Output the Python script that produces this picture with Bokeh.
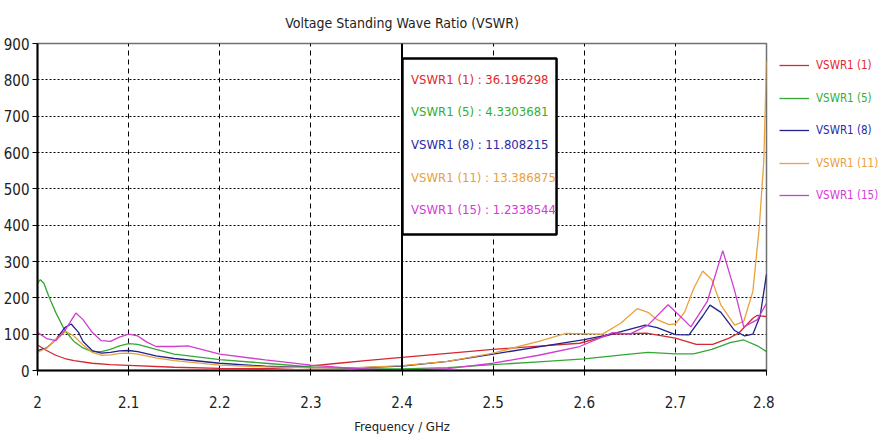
from bokeh.plotting import figure
from bokeh.layouts import row
from bokeh.models import (Range1d, FixedTicker, Span, BoxAnnotation, Label, Legend, LegendItem)
from bokeh.embed import file_html
from bokeh.resources import INLINE

FONT = "'DejaVu Sans Condensed', 'Liberation Sans', sans-serif"

# ---- data ----
f1 = [2.00, 2.01, 2.02, 2.03, 2.04, 2.06, 2.08, 2.10, 2.15, 2.20, 2.25, 2.28, 2.30, 2.33, 2.36, 2.40,
      2.45, 2.50, 2.55, 2.595, 2.631, 2.668, 2.70, 2.723, 2.741, 2.759, 2.77, 2.785, 2.79, 2.80]
v1 = [70, 55, 42, 33, 27, 20, 16, 14, 9, 6, 5, 8, 13, 20, 27, 36.2,
      47, 58, 67, 75, 100, 103, 89, 72, 72, 89, 104, 144, 152, 148]

f5 = [2.000, 2.003, 2.007, 2.013, 2.02, 2.03, 2.04, 2.05, 2.06, 2.07, 2.08, 2.09, 2.10, 2.11, 2.13, 2.15,
      2.20, 2.25, 2.30, 2.35, 2.40, 2.45, 2.50, 2.55, 2.60, 2.65, 2.67, 2.70, 2.72, 2.74, 2.76, 2.775, 2.79, 2.80]
v5 = [240, 250, 240, 200, 160, 110, 80, 62, 52, 52, 58, 68, 74, 72, 58, 45,
      30, 20, 10, 5, 4.33, 8, 16, 24, 32, 45, 50, 46, 46, 58, 77, 84, 68, 52]

f8 = [2.00, 2.01, 2.02, 2.03, 2.037, 2.045, 2.05, 2.06, 2.07, 2.08, 2.09, 2.10, 2.11, 2.13, 2.15, 2.20,
      2.25, 2.30, 2.35, 2.40, 2.45, 2.50, 2.55, 2.60, 2.63, 2.667, 2.68, 2.70, 2.715, 2.73, 2.738, 2.75,
      2.765, 2.776, 2.785, 2.793, 2.80]
v8 = [55, 62, 85, 118, 128, 105, 80, 55, 48, 50, 54, 55, 52, 40, 33, 20,
      12, 8, 7, 11.8, 25, 45, 65, 85, 100, 125, 118, 99, 98, 150, 180, 160,
      110, 95, 100, 150, 265]

f11 = [2.00, 2.01, 2.02, 2.031, 2.04, 2.05, 2.06, 2.07, 2.08, 2.09, 2.10, 2.11, 2.13, 2.15, 2.20, 2.25,
       2.30, 2.35, 2.40, 2.45, 2.50, 2.55, 2.58, 2.62, 2.64, 2.658, 2.67, 2.68, 2.693, 2.70, 2.71, 2.72,
       2.73, 2.74, 2.75, 2.765, 2.775, 2.785, 2.792, 2.797, 2.80]
v11 = [50, 62, 85, 108, 95, 70, 50, 42, 43, 47, 48, 45, 35, 27, 15, 10,
       7, 8, 13.4, 25, 48, 80, 102, 100, 130, 170, 160, 140, 126, 128, 160, 225,
       274, 250, 180, 125, 135, 217, 392, 575, 850]

f15 = [2.00, 2.01, 2.02, 2.03, 2.042, 2.05, 2.06, 2.07, 2.08, 2.09, 2.10, 2.11, 2.12, 2.13, 2.15, 2.165,
       2.18, 2.20, 2.25, 2.30, 2.35, 2.40, 2.45, 2.50, 2.55, 2.595, 2.631, 2.65, 2.67, 2.692, 2.705,
       2.717, 2.735, 2.752, 2.765, 2.775, 2.79, 2.80]
v15 = [105, 88, 82, 110, 158, 140, 105, 82, 80, 92, 100, 95, 78, 66, 66, 68,
       58, 45, 29, 15, 5, 1.2, 5, 20, 42, 66, 104, 100, 125, 181, 150,
       120, 190, 330, 220, 120, 140, 185]

series_names = ["VSWR1 (1)", "VSWR1 (5)", "VSWR1 (8)", "VSWR1 (11)", "VSWR1 (15)"]
marker_values = ["36.196298", "4.3303681", "11.808215", "13.386875", "1.2338544"]
marker_freq = 2.4
x_ticks = [2.0, 2.1, 2.2, 2.3, 2.4, 2.5, 2.6, 2.7, 2.8]
x_tick_labels = ["2", "2.1", "2.2", "2.3", "2.4", "2.5", "2.6", "2.7", "2.8"]
y_ticks = [0, 100, 200, 300, 400, 500, 600, 700, 800, 900]

colors = ["#d42832", "#32a832", "#22228c", "#e8a23c", "#d23cd2"]
text_colors = ["#e0282e", "#30b030", "#2a2aa8", "#e8a03a", "#d838d8"]

freqs = [f1, f5, f8, f11, f15]
vals = [v1, v5, v8, v11, v15]

TOP, BOTTOM = 42, 66
p = figure(frame_width=729, frame_height=327, output_backend="svg", toolbar_location=None,
           x_range=Range1d(2.0, 2.8), y_range=Range1d(0, 900),
           min_border_left=30, min_border_right=8, min_border_top=TOP, min_border_bottom=BOTTOM)

p.title.text = "Voltage Standing Wave Ratio (VSWR)"
p.title.align = "center"
p.title.text_font = FONT
p.title.text_font_size = "14px"
p.title.text_font_style = "normal"
p.title.text_color = "#222222"
p.title.standoff = 25

p.outline_line_color = "#707070"
p.outline_line_width = 1.5

# axes
p.xaxis.ticker = FixedTicker(ticks=x_ticks)
p.xaxis.major_label_overrides = {t: lab for t, lab in zip(x_ticks, x_tick_labels)}
p.yaxis.ticker = FixedTicker(ticks=y_ticks)
for ax in (p.xaxis[0], p.yaxis[0]):
    ax.axis_line_color = "black"
    ax.axis_line_width = 2
    ax.major_tick_line_color = "black"
    ax.major_tick_in = 0
    ax.major_tick_out = 5
    ax.minor_tick_line_color = None
    ax.major_label_text_font = FONT
    ax.major_label_text_font_size = "15px"
    ax.major_label_text_color = "#222222"
p.yaxis.major_label_standoff = 3
p.xaxis.major_label_standoff = 20
p.xaxis.axis_label = "Frequency / GHz"
p.xaxis.axis_label_text_font = FONT
p.xaxis.axis_label_text_font_size = "13px"
p.xaxis.axis_label_text_font_style = "normal"
p.xaxis.axis_label_text_color = "#222222"
p.xaxis.axis_label_standoff = 8

# grid
p.ygrid.grid_line_color = "black"
p.ygrid.grid_line_dash = "2 2"
p.ygrid.grid_line_width = 1
p.xgrid.grid_line_color = "black"
p.xgrid.grid_line_dash = "5 4"
p.xgrid.grid_line_width = 1

renderers = []
for f, v, c in zip(freqs, vals, colors):
    r = p.line(f, v, line_color=c, line_width=1.3)
    renderers.append(r)

# marker line and readout box
p.add_layout(Span(location=marker_freq, dimension="height", line_color="black", line_width=2))
p.add_layout(BoxAnnotation(left=2.4005, right=2.5696, top=859, bottom=374,
                           fill_color="white", fill_alpha=1, line_color="black",
                           line_alpha=1, line_width=2.5))
text_y = [801, 712, 622, 532, 443]
for name, mv, ty, tc in zip(series_names, marker_values, text_y, text_colors):
    p.add_layout(Label(x=2.41, y=ty, text=f"{name} : {mv}", text_color=tc,
                       text_font=FONT, text_font_size="13px", text_baseline="middle"))

# legend panel (separate figure so each label can carry its own colour)
pl = figure(width=107, height=TOP + 327 + BOTTOM,
            output_backend="svg", toolbar_location=None,
            x_axis_type=None, y_axis_type=None, x_range=Range1d(0, 1), y_range=Range1d(0, 1),
            min_border=0)
pl.outline_line_color = None
pl.xgrid.visible = False
pl.ygrid.visible = False
leg_y = [294, 261, 229, 196, 164]
for name, f, v, c, tc, ly in zip(series_names, freqs, vals, colors, text_colors, leg_y):
    # same series, outside this panel's view: only its legend sample shows
    proxy = pl.line(f, v, line_color=c, line_width=1.3)
    leg = Legend(items=[LegendItem(label=name, renderers=[proxy])], location=(5, ly),
                 label_text_color=tc, label_text_font=FONT, label_text_font_size="11.5px",
                 border_line_alpha=0, background_fill_alpha=0, padding=0, margin=0,
                 glyph_width=30, glyph_height=20, label_standoff=7, label_height=20)
    pl.add_layout(leg)

layout = row(p, pl)
open("out.html", "w").write(file_html(layout, INLINE))
